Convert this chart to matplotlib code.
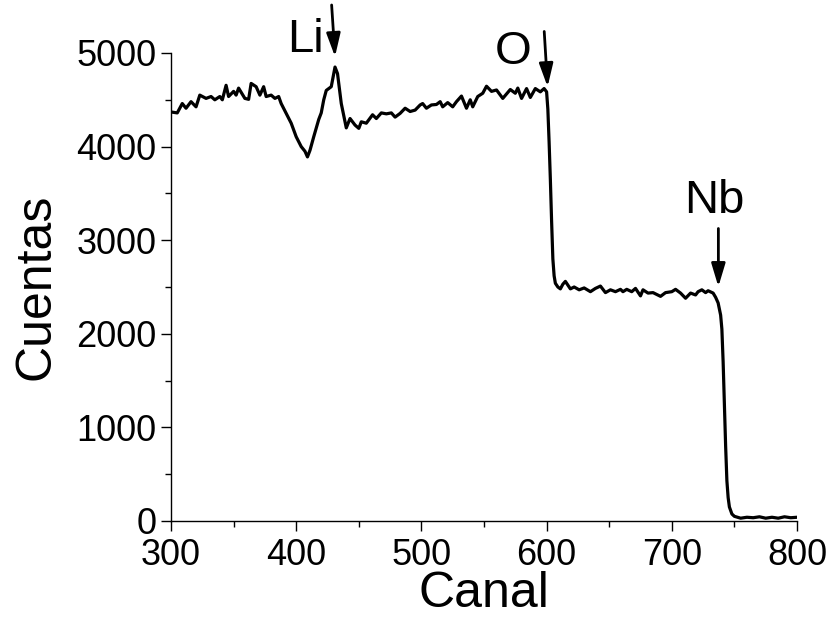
import matplotlib
matplotlib.use("Agg")
import matplotlib.pyplot as plt
from matplotlib.ticker import MultipleLocator

# Espectro RBS: canal vs cuentas
canal = [300, 305, 309, 312, 316, 320, 323, 328, 332, 335, 339, 341, 344, 346,
         350, 352, 354, 359, 362, 364, 368, 371, 374, 376, 380, 383, 386, 388,
         392, 396, 400, 404, 407, 409, 411, 414, 418, 420, 422, 424, 428, 431,
         433, 436, 440, 443, 447, 450, 452, 456, 461, 464, 468, 472, 476, 479,
         483, 487, 491, 495, 499, 501, 504, 508, 512, 515, 517, 521, 525, 528,
         532, 536, 539, 541, 545, 549, 552, 556, 560, 565, 571, 575, 577, 580,
         584, 587, 591, 595, 598, 600, 601, 602, 603, 604, 605, 606, 607, 609,
         611, 613, 615, 619, 622, 626, 630, 635, 639, 643, 647, 651, 655, 659,
         661, 664, 668, 671, 675, 677, 681, 685, 691, 695, 700, 703, 707, 711,
         715, 719, 721, 724, 727, 729, 733, 735, 737, 739, 740, 741, 742, 743,
         744, 745, 746, 748, 750, 755, 760, 765, 770, 775, 780, 785, 790, 795,
         800]
cuentas = [4370, 4360, 4460, 4410, 4480, 4425, 4550, 4515, 4535, 4500, 4535,
           4500, 4655, 4535, 4590, 4550, 4625, 4515, 4505, 4675, 4640, 4550,
           4640, 4535, 4550, 4515, 4535, 4460, 4355, 4250, 4105, 4000, 3950,
           3890, 3960, 4105, 4290, 4360, 4500, 4600, 4640, 4850, 4780, 4460,
           4200, 4300, 4230, 4195, 4265, 4250, 4340, 4300, 4360, 4350, 4360,
           4315, 4355, 4410, 4375, 4390, 4445, 4460, 4410, 4445, 4450, 4480,
           4425, 4470, 4425, 4480, 4540, 4410, 4500, 4425, 4535, 4570, 4645,
           4590, 4605, 4515, 4610, 4570, 4625, 4515, 4620, 4525, 4620, 4585,
           4620, 4585, 4400, 4050, 3650, 3200, 2800, 2620, 2540, 2500, 2480,
           2530, 2560, 2480, 2500, 2470, 2490, 2450, 2485, 2510, 2440, 2470,
           2450, 2475, 2450, 2475, 2450, 2485, 2405, 2470, 2435, 2440, 2400,
           2440, 2450, 2475, 2435, 2380, 2435, 2415, 2450, 2470, 2440, 2460,
           2435, 2390, 2330, 2200, 2050, 1700, 1250, 800, 430, 250, 150, 75,
           50, 30, 40, 35, 45, 30, 40, 30, 45, 35, 40]

# etiquetas de elementos: (texto, posición texto, punta flecha, cola flecha)
elementos = ["Li", "O", "Nb"]
pos_texto = [(407, 5010), (573, 4880), (734, 3290)]
punta = [(431, 4961), (600.8, 4639), (737.2, 2503)]
cola = [(428.3, 5513), (598.1, 5230), (737.2, 3125)]

plt.rcParams['font.family'] = ['Liberation Sans', 'DejaVu Sans']

fig = plt.figure(figsize=(8.27, 6.21), dpi=100)
ax = fig.add_axes([171 / 827, 100 / 621, 626 / 827, 468 / 621])

ax.plot(canal, cuentas, color='black', linewidth=2.3)

ax.set_xlim(300, 800)
ax.set_ylim(0, 5000)
ax.xaxis.set_major_locator(MultipleLocator(100))
ax.xaxis.set_minor_locator(MultipleLocator(50))
ax.yaxis.set_major_locator(MultipleLocator(1000))
ax.yaxis.set_minor_locator(MultipleLocator(500))

for lado in ['top', 'right']:
    ax.spines[lado].set_visible(False)
for lado in ['left', 'bottom']:
    ax.spines[lado].set_linewidth(1)

ax.tick_params(which='major', direction='out', length=7, width=1, labelsize=26)
ax.tick_params(axis='x', which='major', pad=5)
ax.tick_params(which='minor', direction='out', length=4, width=1)

# etiqueta x colocada a mano (base de las letras en y≈607 px)
fig.text(484 / 827, 14 / 621, 'Canal', fontsize=36, ha='center', va='baseline')
ax.set_ylabel('Cuentas', fontsize=36, labelpad=12)

for nombre, pt, pa, pc in zip(elementos, pos_texto, punta, cola):
    ax.text(pt[0], pt[1], nombre, fontsize=34, ha='center', va='baseline', clip_on=False)
    ax.annotate('', xy=pa, xytext=pc, annotation_clip=False,
                arrowprops=dict(arrowstyle='-|>,head_length=1.0,head_width=0.3',
                                color='black', lw=2, shrinkA=0, shrinkB=0,
                                mutation_scale=14))

fig.savefig('out.png', dpi=100)
